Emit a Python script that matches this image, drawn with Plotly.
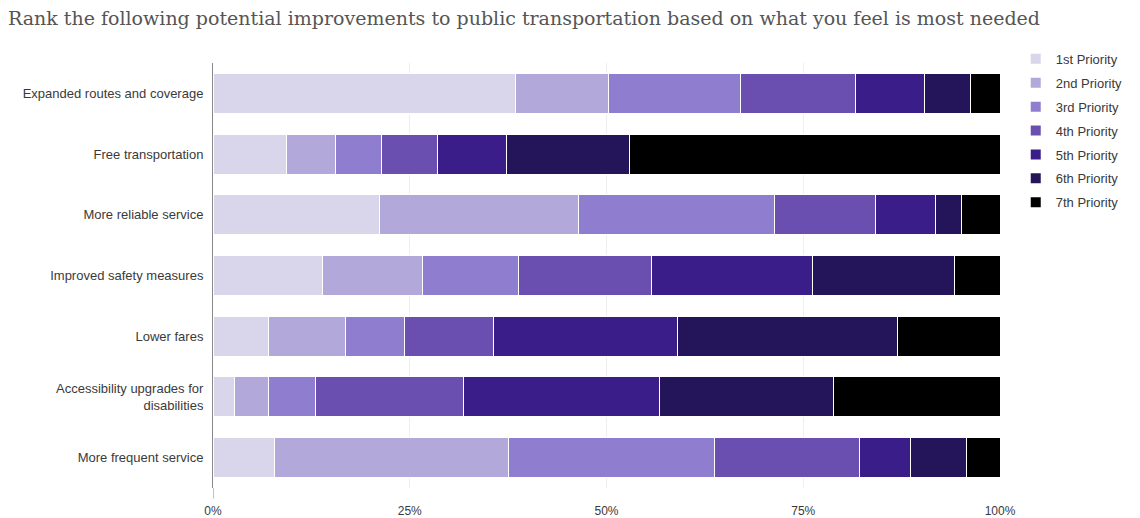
import plotly.graph_objects as go

# Improvements, listed top to bottom
categories = [
    "Expanded routes and coverage",
    "Free transportation",
    "More reliable service",
    "Improved safety measures",
    "Lower fares",
    "Accessibility upgrades for<br>disabilities",
    "More frequent service",
]

priorities = ["1st Priority", "2nd Priority", "3rd Priority", "4th Priority",
              "5th Priority", "6th Priority", "7th Priority"]

# Share of respondents (%) per priority, one list per priority, in category order
p1 = [38.4, 9.3, 21.1, 13.9, 7.0, 2.7, 7.8]
p2 = [11.8, 6.3, 25.3, 12.7, 9.8, 4.3, 29.7]
p3 = [16.8, 5.8, 24.9, 12.2, 7.5, 6.0, 26.2]
p4 = [14.6, 7.1, 12.9, 16.9, 11.3, 18.8, 18.4]
p5 = [8.8, 8.8, 7.6, 20.5, 23.4, 24.9, 6.5]
p6 = [5.8, 15.6, 3.3, 18.0, 28.0, 22.2, 7.1]
p7 = [3.8, 47.1, 4.9, 5.8, 13.0, 21.1, 4.3]

series = [p1, p2, p3, p4, p5, p6, p7]
colors = ["#d9d5ea", "#b2a8da", "#8f7ed0", "#6a4fb0", "#3b1d8a", "#241459", "#000000"]

tick_vals = [0, 25, 50, 75, 100]
tick_text = ["0%", "25%", "50%", "75%", "100%"]

sans = "Liberation Sans, Arial, sans-serif"
text_col = "#3a3a3a"

fig = go.Figure()
for name, vals, col in zip(priorities, series, colors):
    fig.add_trace(go.Bar(
        y=categories,
        x=vals,
        name=name,
        legendgroup=name,
        orientation="h",
        marker=dict(color=col, line=dict(color="white", width=1)),
        hovertemplate="%{y}: %{x:.1f}%<extra>" + name + "</extra>",
    ))

# left axis line continues a little below the plot, down to the 0% label
fig.add_shape(type="line", xref="x", yref="paper", x0=0, x1=0, y0=0, y1=-0.025,
              line=dict(color="#888888", width=1))

fig.update_layout(
    template="none",
    barmode="stack",
    bargap=0.34,
    width=1140,
    height=518,
    paper_bgcolor="white",
    plot_bgcolor="white",
    margin=dict(l=213, r=140, t=63, b=30, autoexpand=False),
    title=dict(
        text="Rank the following potential improvements to public transportation based on what you feel is most needed",
        x=0.007, xanchor="left", y=0.964, yanchor="middle",
        font=dict(family="DejaVu Serif, Georgia, serif", size=19, color="#555555"),
    ),
    legend=dict(
        x=1.02, xanchor="left", y=1.045, yanchor="top",
        font=dict(family=sans, size=13, color=text_col),
        itemsizing="constant",
        tracegroupgap=4,
        traceorder="grouped",
        bgcolor="rgba(0,0,0,0)",
    ),
    font=dict(family=sans, size=13, color=text_col),
    showlegend=True,
)

fig.update_xaxes(
    range=[0, 100],
    tickvals=tick_vals,
    ticktext=tick_text,
    showgrid=True,
    gridcolor="#efefef",
    gridwidth=1,
    zeroline=False,
    showline=False,
    ticks="outside",
    ticklen=12,
    tickcolor="rgba(0,0,0,0)",
    tickfont=dict(family=sans, size=12, color=text_col),
    fixedrange=True,
)
fig.update_yaxes(
    autorange="reversed",
    showgrid=False,
    zeroline=False,
    showline=True,
    linecolor="#888888",
    linewidth=1,
    ticks="",
    ticklabelstandoff=6,
    tickfont=dict(family=sans, size=13, color=text_col),
    fixedrange=True,
)

fig.write_html("out.html")
